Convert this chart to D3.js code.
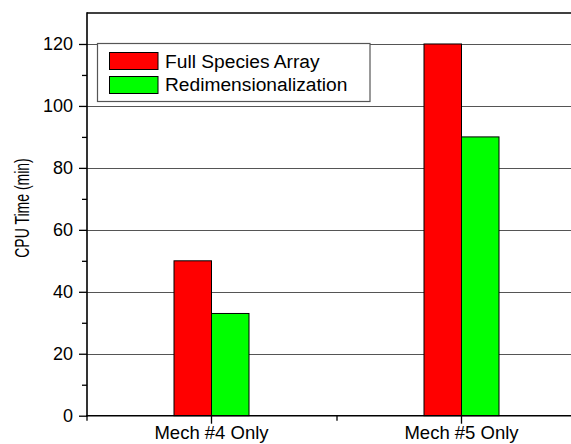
<!DOCTYPE html>
<html><head><meta charset="utf-8">
<script src="https://cdn.jsdelivr.net/npm/d3@7"></script>
<style>html,body{margin:0;padding:0;background:#fff;}svg{display:block;font-family:Arial,"Liberation Sans",sans-serif;}</style>
</head><body><svg id="c" width="571" height="444"></svg>
<script>
const categories = ["Mech #4 Only", "Mech #5 Only"];
const seriesNames = ["Full Species Array", "Redimensionalization"];
const fullSpecies = [50, 120];
const redim = [33, 90];
const yTicks = [0, 20, 40, 60, 80, 100, 120];
const yMinorTicks = [10, 30, 50, 70, 90, 110];
const colors = ["#ff0000", "#00ff00"];

const svg = d3.select("#c");
const L = 87, R = 587, T = 13, B = 415.7;
const y = d3.scaleLinear().domain([0, 130]).range([B, T]);
const x = d3.scaleBand().domain(categories).range([L - 0.5, R - 0.5]).paddingInner(0.7).paddingOuter(0.35);
const xs = d3.scaleBand().domain(seriesNames).range([0, x.bandwidth()]);
const data = categories.map((c, i) => ({cat: c, vals: [fullSpecies[i], redim[i]]}));

// gridlines
svg.append("g").selectAll("line").data(yTicks.filter(d => d > 0)).join("line")
  .attr("x1", L).attr("x2", 571).attr("y1", d => Math.round(y(d)) + 0.5).attr("y2", d => Math.round(y(d)) + 0.5)
  .attr("stroke", "#555").attr("stroke-width", 1);

// bars
const g = svg.append("g");
data.forEach(d => {
  d.vals.forEach((v, j) => {
    g.append("rect")
      .attr("x", x(d.cat) + xs(seriesNames[j]))
      .attr("y", y(v))
      .attr("width", xs.bandwidth())
      .attr("height", y(0) - y(v))
      .attr("fill", colors[j]).attr("stroke", "#000").attr("stroke-width", 1);
  });
});

// top border
svg.append("line").attr("x1", L).attr("x2", 571).attr("y1", T).attr("y2", T).attr("stroke", "#000").attr("stroke-width", 1.6);

// y axis
const yAxis = d3.axisLeft(y).tickValues(yTicks).tickSize(8).tickPadding(6).tickFormat(d3.format("d"));
const ya = svg.append("g").attr("transform", `translate(${L},0)`).call(yAxis);
ya.select(".domain").remove();
ya.selectAll("line").attr("stroke", "#000").attr("stroke-width", 1.3);
ya.selectAll("text").attr("font-size", 18).attr("fill", "#000").attr("font-family", "Arial, 'Liberation Sans', sans-serif");
const yMinor = d3.axisLeft(y).tickValues(yMinorTicks).tickSize(5).tickFormat("");
const ym = svg.append("g").attr("transform", `translate(${L},0)`).call(yMinor);
ym.select(".domain").remove();
ym.selectAll("line").attr("stroke", "#000").attr("stroke-width", 1.3);
svg.append("line").attr("x1", L).attr("x2", L).attr("y1", T - 0.8).attr("y2", B + 0.8).attr("stroke", "#000").attr("stroke-width", 1.6);

// x axis
const xAxis = d3.axisBottom(x).tickSize(8).tickPadding(2);
const xa = svg.append("g").attr("transform", `translate(0,${B})`).call(xAxis);
xa.select(".domain").remove();
xa.selectAll("line").attr("stroke", "#000").attr("stroke-width", 1.3);
xa.selectAll("text").attr("font-size", 18.5).attr("fill", "#000").attr("font-family", "Arial, 'Liberation Sans', sans-serif");
// minor x ticks at category boundaries
const xl = d3.scaleLinear().domain([0, 2]).range([L, R]);
svg.append("g").selectAll("line").data([0, 1]).join("line")
  .attr("x1", d => xl(d)).attr("x2", d => xl(d)).attr("y1", B).attr("y2", B + 5)
  .attr("stroke", "#000").attr("stroke-width", 1.3);
svg.append("line").attr("x1", L - 0.8).attr("x2", 571).attr("y1", B).attr("y2", B).attr("stroke", "#000").attr("stroke-width", 1.6);

// y title
svg.append("text").attr("transform", "translate(28.5,208) rotate(-90) scale(0.7,1)").attr("text-anchor", "middle")
  .attr("font-size", 20).attr("fill", "#000").text("CPU Time (min)");

// legend
const lg = svg.append("g");
lg.append("rect").attr("x", 97.5).attr("y", 43.5).attr("width", 272.5).attr("height", 58)
  .attr("fill", "#fff").attr("stroke", "#555").attr("stroke-width", 1.2);
seriesNames.forEach((s, i) => {
  lg.append("rect").attr("x", 109.5).attr("y", 52.5 + i * 24).attr("width", 48.5).attr("height", 17)
    .attr("fill", colors[i]).attr("stroke", "#000").attr("stroke-width", 1);
  lg.append("text").attr("x", 165).attr("y", 67.5 + i * 23.5).attr("font-size", 19.2).attr("fill", "#000").text(s);
});
</script></body></html>
